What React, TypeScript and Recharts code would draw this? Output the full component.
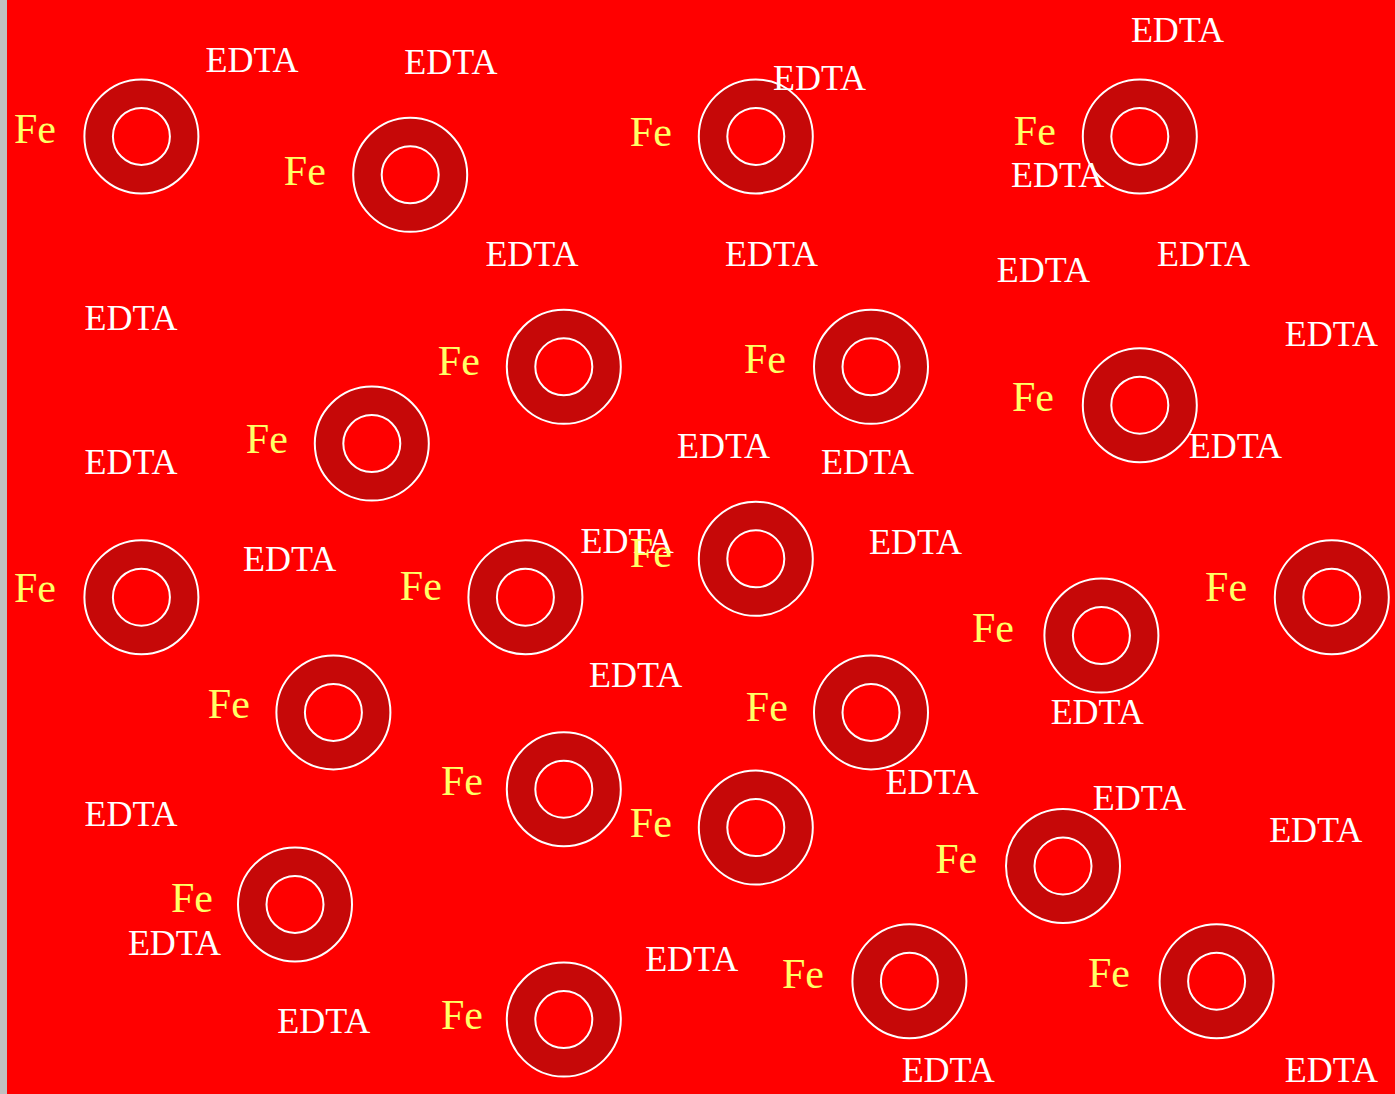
import { Scatter, ScatterChart, XAxis, YAxis } from "recharts";

// grid units, one unit = 38.4px on the picture
const cellX = [3.5, 10.5, 19.5, 29.5, 14.5, 22.5, 9.5, 29.5, 19.5, 3.5, 13.5, 34.5, 28.5, 8.5, 22.5, 14.5, 19.5, 27.5, 7.5, 23.5, 31.5, 14.5];
const cellY = [3.5, 4.5, 3.5, 3.5, 9.5, 9.5, 11.5, 10.5, 14.5, 15.5, 15.5, 15.5, 16.5, 18.5, 18.5, 20.5, 21.5, 22.5, 23.5, 25.5, 25.5, 26.5];

// "Fe" labels: left edge, baseline
const feX = [0.18, 7.21, 16.22, 26.22, 11.22, 19.19, 6.22, 26.17, 16.22, 0.18, 10.23, 31.2, 25.13, 5.23, 19.24, 11.3, 16.22, 24.17, 4.27, 20.18, 28.15, 11.3];
const feY = [3.67, 4.77, 3.75, 3.72, 9.71, 9.66, 11.74, 10.65, 14.71, 15.63, 15.57, 15.6, 16.67, 18.65, 18.72, 20.65, 21.74, 22.68, 23.7, 25.68, 25.65, 26.74];

// "EDTA" labels: centre, baseline
const edtaX = [6.38, 11.56, 21.16, 30.48, 27.36, 13.67, 19.91, 26.99, 31.16, 3.23, 34.49, 3.23, 18.66, 22.41, 31.99, 7.36, 16.15, 23.66, 16.37, 28.39, 24.09, 29.49, 3.23, 34.08, 4.36, 17.83, 8.25, 24.51, 34.49];
const edtaY = [1.82, 1.88, 2.29, 1.04, 4.82, 6.88, 6.88, 7.29, 6.88, 8.54, 8.96, 12.29, 11.88, 12.29, 11.88, 14.82, 14.35, 14.38, 17.84, 18.8, 20.63, 21.04, 21.46, 21.88, 24.82, 25.23, 26.85, 28.13, 28.13];

const zip = (xs: number[], ys: number[]) => xs.map((x, i) => ({ x, y: ys[i] }));

const cells = zip(cellX, cellY);
const fe = zip(feX, feY);
const edta = zip(edtaX, edtaY);

const W = 1388;
const H = 1094;
const FONT = "'Liberation Serif', 'Times New Roman', serif";

const Donut = (props: any) => {
  const { cx, cy } = props;
  return (
    <g>
      <circle cx={cx} cy={cy} r={57} fill="#c60808" stroke="#ffffff" strokeWidth={2}/>
      <circle cx={cx} cy={cy} r={28.5} fill="#ff0000" stroke="#ffffff" strokeWidth={2}/>
    </g>
  );
};

const FeLabel = (props: any) => (
  <text x={props.cx} y={props.cy} fill="#ffff66" fontSize={42} fontFamily={FONT}>Fe</text>
);

const EdtaLabel = (props: any) => (
  <text x={props.cx} y={props.cy} fill="#ffffff" fontSize={36} fontFamily={FONT} textAnchor="middle">EDTA</text>
);

export default function App() {
  return (
    <div style={ { position: "absolute", left: 0, top: 0, width: 1395, height: 1094, background: "#c0c0c0", overflow: "hidden" } }>
      <div style={ { position: "absolute", left: 7, top: 0, width: W, height: H, background: "#ff0000" } }>
        <ScatterChart width={ W } height={ H } margin={ { top: 0, right: 0, bottom: 0, left: 0 } }>
          <XAxis type="number" dataKey="x" domain={ [0, W / 38.4] } hide/>
          <YAxis type="number" dataKey="y" domain={ [-2 / 38.4, (H - 2) / 38.4] } reversed hide/>
          <Scatter data={ cells } shape={ Donut } isAnimationActive={ false }/>
          <Scatter data={ edta } shape={ EdtaLabel } isAnimationActive={ false }/>
          <Scatter data={ fe } shape={ FeLabel } isAnimationActive={ false }/>
        </ScatterChart>
      </div>
    </div>
  );
}
